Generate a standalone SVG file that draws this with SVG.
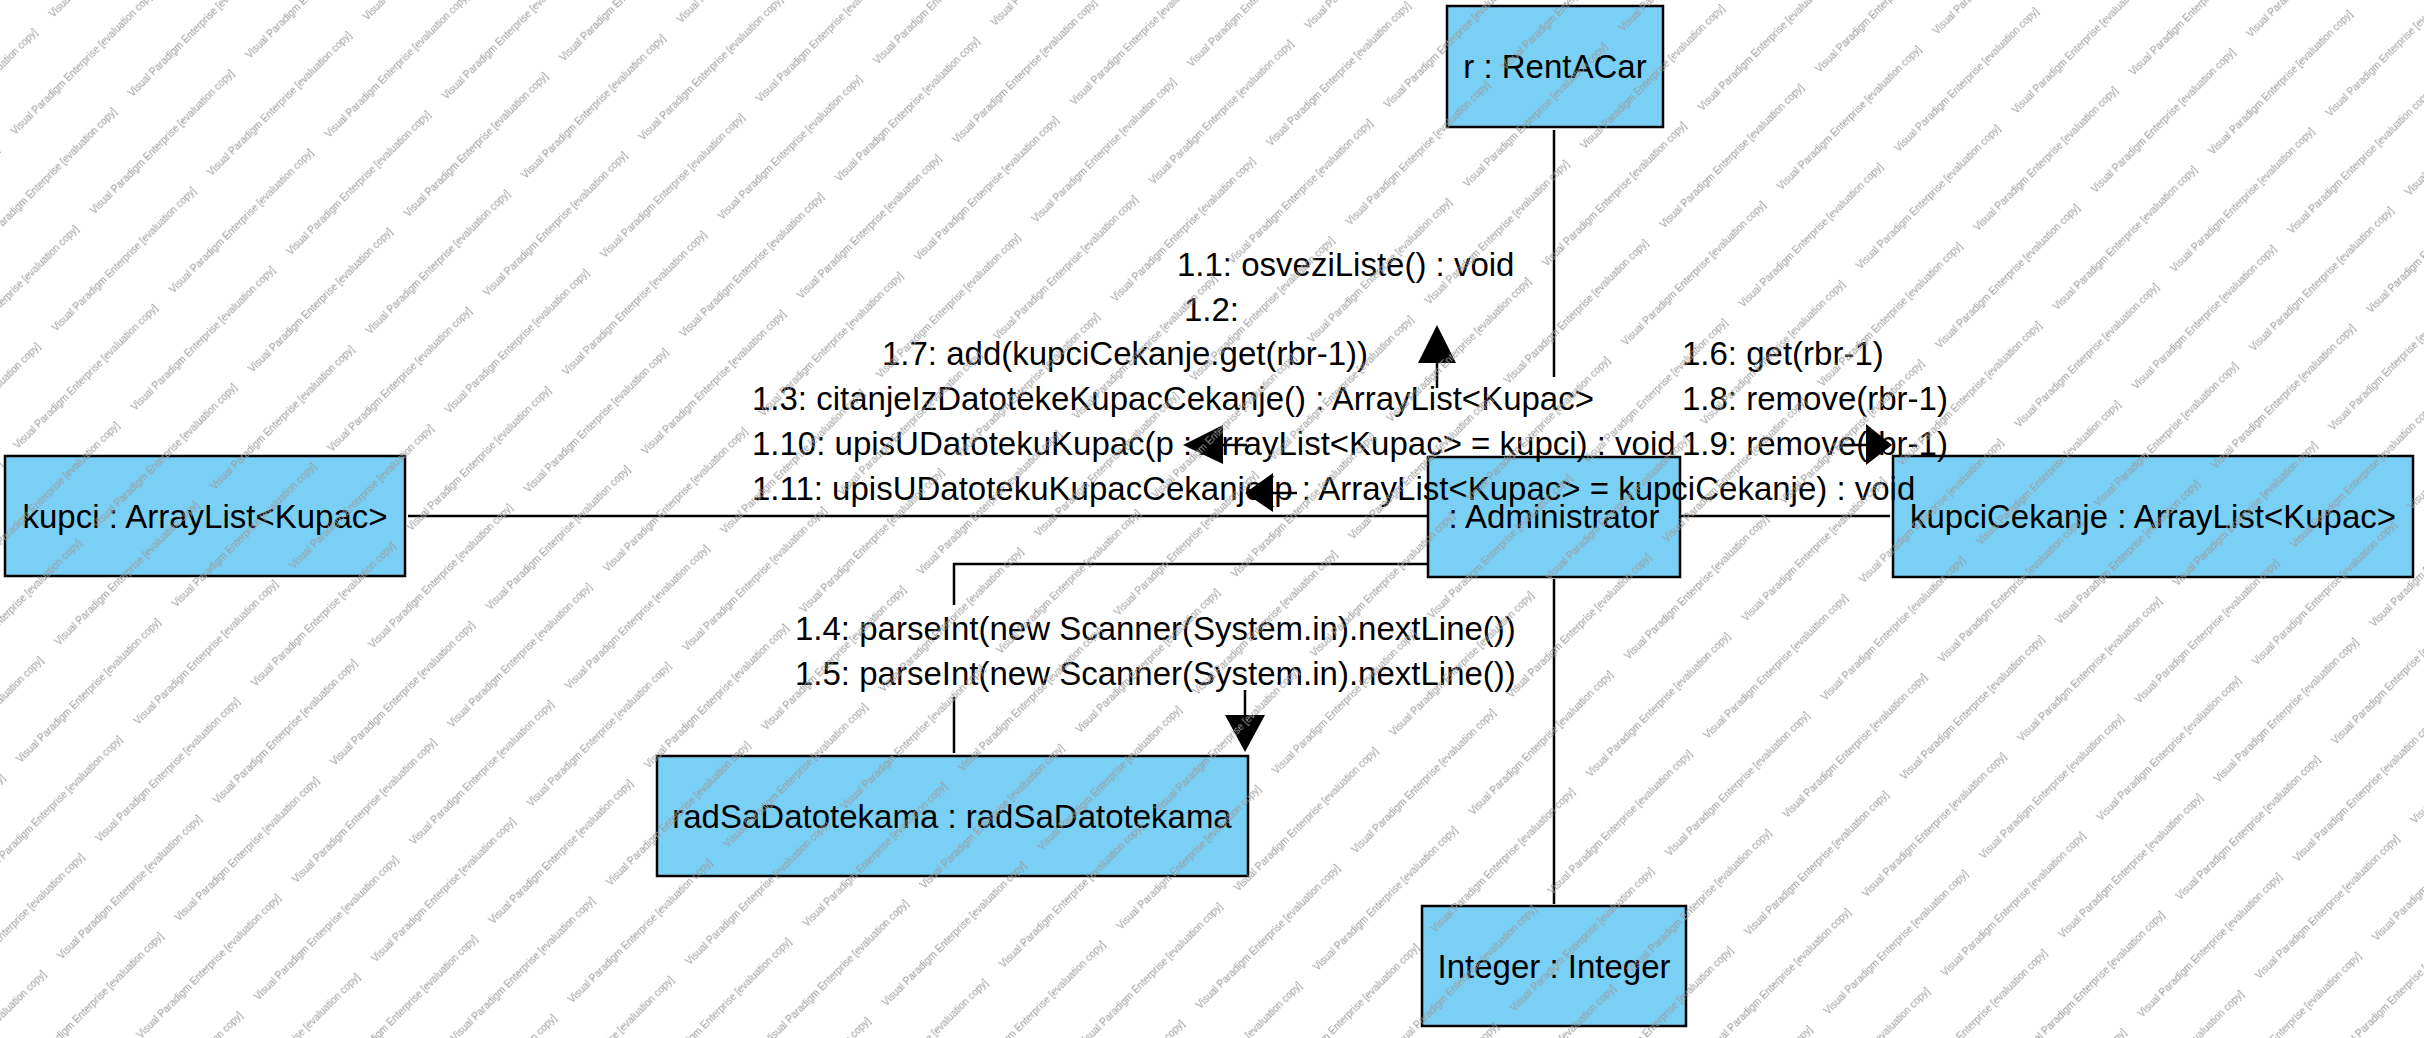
<svg xmlns="http://www.w3.org/2000/svg" width="2424" height="1038" viewBox="0 0 2424 1038">
  <defs>
    <style>
      .obj { fill: #7ACFF5; stroke: #000; stroke-width: 2.5; }
      .name { font-family: "Liberation Sans", Arial, sans-serif; font-size: 33px; fill: #000; text-anchor: middle; }
      .msg { font-family: "Liberation Sans", Arial, sans-serif; font-size: 33px; fill: #000; }
      .link { fill: none; stroke: #000; stroke-width: 2.5; }
      .head { fill: #000; stroke: none; }
      .wm { font-family: "Liberation Sans", Arial, sans-serif; font-size: 10px; fill: #9a9a9a; }
    </style>
    <!-- evaluation stamp tiled across the sheet -->
    <pattern id="stamp" patternUnits="userSpaceOnUse" width="220" height="112" patternTransform="translate(124,711) rotate(-45)">
      <text class="wm" x="0" y="20">Visual Paradigm Enterprise [evaluation copy]</text>
      <text class="wm" x="110" y="76">Visual Paradigm Enterprise [evaluation copy]</text>
      <text class="wm" x="-110" y="76">Visual Paradigm Enterprise [evaluation copy]</text>
    </pattern>
  </defs>

  <rect width="2424" height="1038" fill="#fff"/>

  <!-- links between the objects -->
  <g id="connectors">
    <line class="link" x1="1554" y1="130" x2="1554" y2="377"/>
    <line class="link" x1="408" y1="516" x2="1428" y2="516"/>
    <line class="link" x1="1680" y1="516" x2="1890" y2="516"/>
    <polyline class="link" points="1428,564 954,564 954,605"/>
    <line class="link" x1="954" y1="697" x2="954" y2="753"/>
    <line class="link" x1="1554" y1="579" x2="1554" y2="904"/>
  </g>

  <!-- objects -->
  <g id="rentacar">
    <rect class="obj" x="1447" y="6" width="216" height="121"/>
    <text class="name" x="1555" y="78">r : RentACar</text>
  </g>
  <g id="kupci">
    <rect class="obj" x="5" y="456" width="400" height="120"/>
    <text class="name" x="205" y="528">kupci : ArrayList&lt;Kupac&gt;</text>
  </g>
  <g id="administrator">
    <rect class="obj" x="1428" y="457" width="252" height="120"/>
    <text class="name" x="1554" y="528">: Administrator</text>
  </g>
  <g id="kupciCekanje">
    <rect class="obj" x="1893" y="456" width="520" height="121"/>
    <text class="name" x="2153" y="528">kupciCekanje : ArrayList&lt;Kupac&gt;</text>
  </g>
  <g id="radSaDatotekama">
    <rect class="obj" x="657" y="756" width="591" height="120"/>
    <text class="name" x="952" y="828">radSaDatotekama : radSaDatotekama</text>
  </g>
  <g id="integer">
    <rect class="obj" x="1422" y="906" width="264" height="120"/>
    <text class="name" x="1554" y="978">Integer : Integer</text>
  </g>

  <!-- message labels and direction arrows -->
  <g id="messages">
    <text class="msg" x="1177" y="276">1.1: osveziListe() : void</text>
    <text class="msg" x="1184" y="321">1.2:</text>
    <text class="msg" x="882" y="365">1.7: add(kupciCekanje.get(rbr-1))</text>
    <text class="msg" x="752" y="410">1.3: citanjeIzDatotekeKupacCekanje() : ArrayList&lt;Kupac&gt;</text>
    <text class="msg" x="752" y="455">1.10: upisUDatotekuKupac(p : ArrayList&lt;Kupac&gt; = kupci) : void</text>
    <text class="msg" x="752" y="500">1.11: upisUDatotekuKupacCekanje(p : ArrayList&lt;Kupac&gt; = kupciCekanje) : void</text>

    <text class="msg" x="1682" y="365">1.6: get(rbr-1)</text>
    <text class="msg" x="1682" y="410">1.8: remove(rbr-1)</text>
    <text class="msg" x="1682" y="455">1.9: remove(rbr-1)</text>

    <text class="msg" x="795" y="640">1.4: parseInt(new Scanner(System.in).nextLine())</text>
    <text class="msg" x="795" y="685">1.5: parseInt(new Scanner(System.in).nextLine())</text>

    <!-- to r : RentACar -->
    <line class="link" x1="1437" y1="363" x2="1437" y2="388"/>
    <polygon class="head" points="1437,325 1418,363 1456,363"/>
    <!-- to kupci -->
    <line class="link" x1="1223" y1="445" x2="1247" y2="445"/>
    <polygon class="head" points="1183,445 1223,425 1223,464"/>
    <line class="link" x1="1273" y1="493" x2="1297" y2="493"/>
    <polygon class="head" points="1245,493 1273,473 1273,512"/>
    <!-- to kupciCekanje -->
    <line class="link" x1="1842" y1="445" x2="1866" y2="445"/>
    <polygon class="head" points="1892,445 1866,424 1866,465"/>
    <!-- to radSaDatotekama -->
    <line class="link" x1="1245" y1="690" x2="1245" y2="715"/>
    <polygon class="head" points="1245,752 1225,715 1265,715"/>
  </g>

  <g id="watermark">
    <rect width="2424" height="1038" fill="url(#stamp)"/>
  </g>
</svg>
